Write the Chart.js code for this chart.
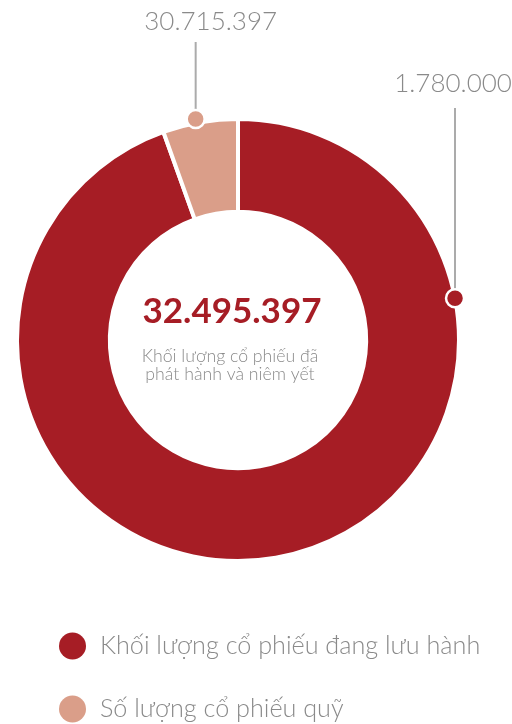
<!DOCTYPE html>
<html>
<head>
<meta charset="utf-8">
<script src="https://cdn.jsdelivr.net/npm/chart.js@4/dist/chart.umd.min.js"></script>
<style>
  html, body { margin: 0; padding: 0; background: #fff; overflow: hidden; }
  #wrap { width: 512px; height: 724px; }
</style>
</head>
<body>
<div id="wrap"><canvas id="chart"></canvas></div>
<script>
const categories = ['Khối lượng cổ phiếu đang lưu hành', 'Số lượng cổ phiếu quỹ'];
const shares = [30715397, 1780000];
const colors = ['#A61D25', '#DA9E89'];
const centerCaption = ['Khối lượng cổ phiếu đã', 'phát hành và niêm yết'];

const fmt = v => String(v).replace(/\B(?=(\d{3})+(?!\d))/g, '.');

// callouts as placed in the source picture (the numbers sit on the other slice)
const callouts = [
  { slice: 1, text: fmt(shares[0]), frac: 0.45, out: 4, lineTop: 42, textDx: 15, textY: 22 },
  { slice: 0, text: fmt(shares[1]), frac: 0.2325, out: 0, lineTop: 108, textDx: -2, textY: 84 }
];

const FONT = 'Lato, "Noto Sans", sans-serif';
const GREY = '#8a8a8a';

const centerText = {
  id: 'centerText',
  afterDraw(chart) {
    const ctx = chart.ctx;
    const arc = chart.getDatasetMeta(0).data[0];
    if (!arc) return;
    const total = shares.reduce((a, b) => a + b, 0);
    ctx.save();
    ctx.textAlign = 'center';
    ctx.textBaseline = 'middle';
    ctx.fillStyle = colors[0];
    ctx.font = 'bold 35px ' + FONT;
    ctx.fillText(fmt(total), arc.x - 6, arc.y - 28);
    ctx.fillStyle = GREY;
    ctx.font = '300 17.7px ' + FONT;
    ctx.fillText(centerCaption[0], arc.x - 8, arc.y + 16);
    ctx.fillText(centerCaption[1], arc.x - 8, arc.y + 34);
    ctx.restore();
  }
};

const calloutPlugin = {
  id: 'callouts',
  afterDraw(chart) {
    const ctx = chart.ctx;
    const meta = chart.getDatasetMeta(0);
    ctx.save();
    callouts.forEach(c => {
      const arc = meta.data[c.slice];
      const p = arc.getProps(['x', 'y', 'startAngle', 'endAngle', 'outerRadius'], true);
      const a = p.startAngle + c.frac * (p.endAngle - p.startAngle);
      const r = p.outerRadius + c.out;
      const dx = p.x + Math.cos(a) * r;
      const dy = p.y + Math.sin(a) * r;
      ctx.strokeStyle = '#ababab';
      ctx.lineWidth = 2;
      ctx.beginPath();
      ctx.moveTo(dx, c.lineTop);
      ctx.lineTo(dx, dy);
      ctx.stroke();
      ctx.beginPath();
      ctx.arc(dx, dy, 9, 0, Math.PI * 2);
      ctx.fillStyle = colors[c.slice];
      ctx.fill();
      ctx.strokeStyle = '#fff';
      ctx.lineWidth = 2.5;
      ctx.stroke();
      ctx.fillStyle = GREY;
      ctx.font = '300 26px ' + FONT;
      ctx.textAlign = 'center';
      ctx.textBaseline = 'middle';
      ctx.fillText(c.text, dx + c.textDx, c.textY);
    });
    ctx.restore();
  }
};

const legendPlugin = {
  id: 'sideLegend',
  afterDraw(chart) {
    const ctx = chart.ctx;
    ctx.save();
    ctx.textAlign = 'left';
    ctx.textBaseline = 'middle';
    ctx.font = '300 25.2px ' + FONT;
    chart.data.labels.forEach((label, i) => {
      const y = 646 + i * 63;
      ctx.beginPath();
      ctx.arc(72.5, y, 13.5, 0, Math.PI * 2);
      ctx.fillStyle = chart.data.datasets[0].backgroundColor[i];
      ctx.fill();
      ctx.fillStyle = GREY;
      ctx.fillText(label, 100, y);
    });
    ctx.restore();
  }
};

new Chart(document.getElementById('chart'), {
  type: 'doughnut',
  data: {
    labels: categories,
    datasets: [{
      data: shares,
      backgroundColor: colors,
      borderColor: '#fff',
      borderWidth: 4,
      hoverOffset: 0
    }]
  },
  options: {
    responsive: true,
    maintainAspectRatio: false,
    animation: false,
    cutout: '58%',
    layout: { padding: { top: 117, left: 15, right: 51, bottom: 161 } },
    plugins: {
      legend: { display: false },
      tooltip: { enabled: false }
    }
  },
  plugins: [centerText, calloutPlugin, legendPlugin]
});
</script>
</body>
</html>
